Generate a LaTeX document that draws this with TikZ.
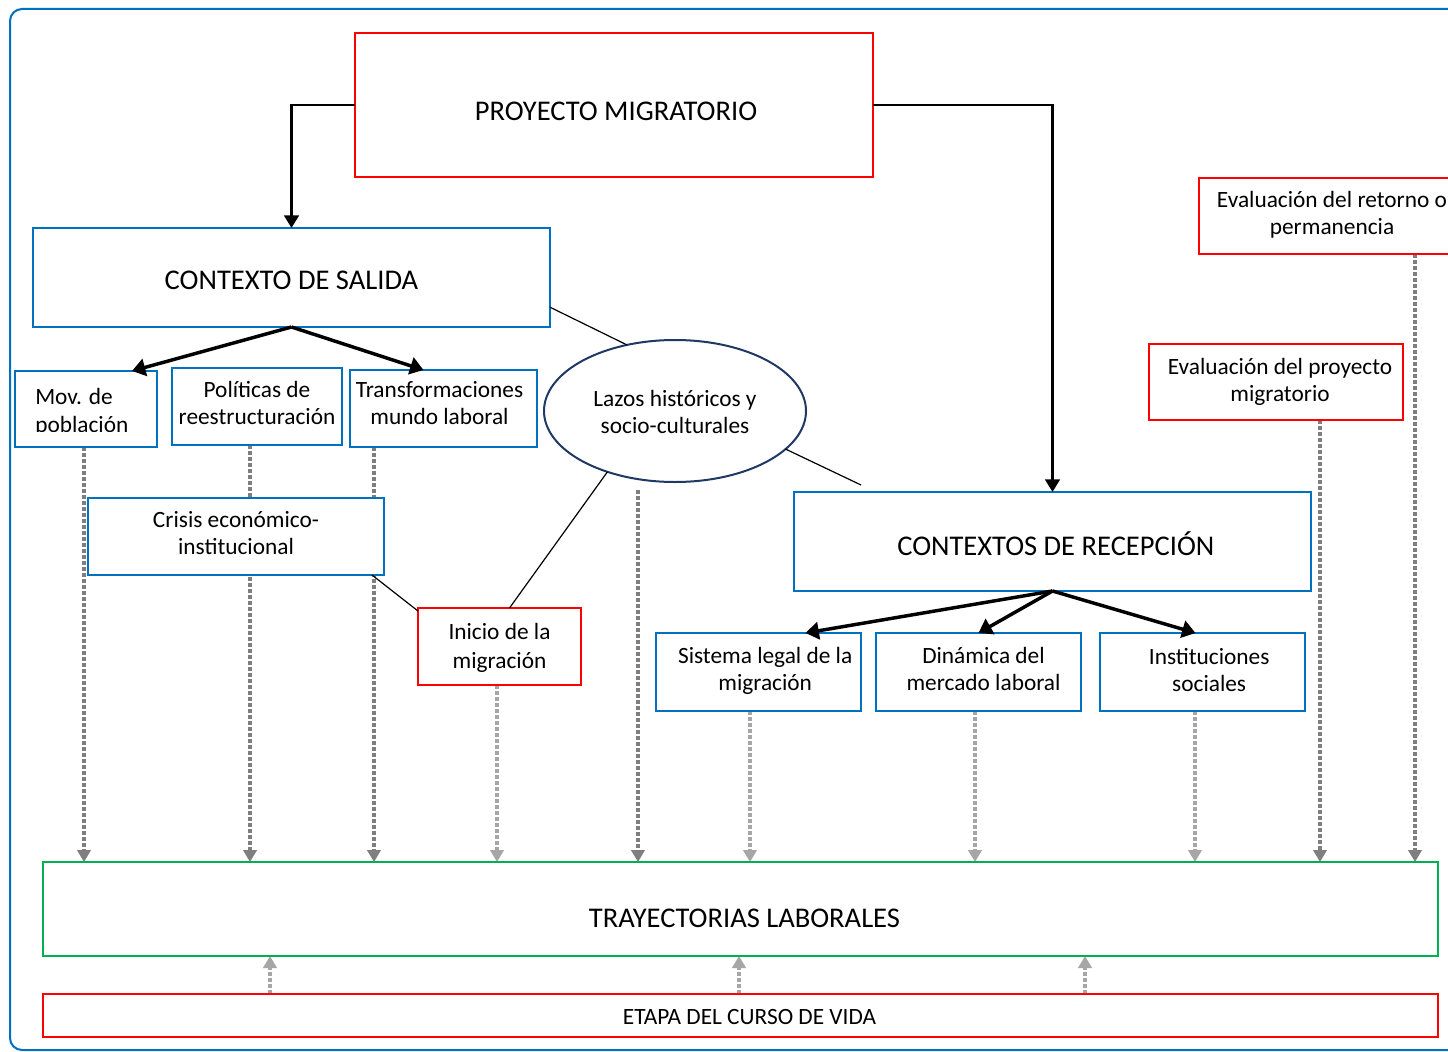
\documentclass[tikz,border=0pt]{standalone}
\usepackage{fontspec}
\setmainfont{Carlito}
\usetikzlibrary{arrows.meta,shapes.geometric,calc}
\definecolor{obl}{RGB}{0,112,192}
\definecolor{ored}{RGB}{255,0,0}
\definecolor{ogr}{RGB}{0,176,80}
\definecolor{onavy}{RGB}{31,56,100}
\definecolor{dkg}{RGB}{127,127,127}
\definecolor{ltg}{RGB}{166,166,166}
\newcommand\smf{\fontsize{17.5}{20}\selectfont}
\newcommand\lgf{\fontsize{21.4}{26}\selectfont}
% text shifted vertically by #1 without changing its reported size
\newcommand\mv[2]{\raisebox{#1}[\height][\depth]{#2}}
% two-line text block, raised by #1
\newcommand\tl[2][0.4pt]{\mv{#1}{\begin{tabular}{@{}c@{}}#2\end{tabular}}}
\pgfdeclarelayer{background}
\pgfsetlayers{background,main}
\begin{document}
\begin{tikzpicture}[x=0.75pt,y=-0.75pt,
  bx/.style 2 args={draw, fill=white, line width=1.5pt, inner sep=0pt, outer sep=0pt,
    minimum width=#1*0.75pt, minimum height=#2*0.75pt, align=center, font=\smf},
  bbox/.style={draw=obl},
  rbox/.style={draw=ored},
  blk/.style={line width=2pt, -{Triangle[width=11pt,length=9.5pt]}},
  blkk/.style={line width=2.6pt, -{Triangle[width=13pt,length=10pt]}},
  thn/.style={line width=0.9pt},
  dk/.style={draw=dkg, line width=3pt, dash pattern=on 3pt off 1.5pt, -{Triangle[width=10pt,length=9pt]}},
  lt/.style={draw=ltg, line width=3pt, dash pattern=on 3pt off 1.5pt, -{Triangle[width=10pt,length=9pt]}}
]
\useasboundingbox (0,0) rectangle (1448,1052);
\clip (0,0) rectangle (1448,1052);

% boxes
\node[bx={518}{144}, rbox, font=\lgf] (proy) at (614,105) {\hspace*{3pt}\mv{-4.5pt}{PROYECTO MIGRATORIO}};
\node[bx={517}{99}, bbox, font=\lgf] (salida) at (291.5,277.5) {\mv{-2pt}{CONTEXTO DE SALIDA}};
\node[bx={517}{99}, bbox, font=\lgf] (recep) at (1052.5,541.5) {\hspace*{5pt}\mv{-1.5pt}{CONTEXTOS DE RECEPCIÓN}};
\node[bx={266}{76}, rbox] (evret) at (1332,216) {\tl{Evaluación del retorno o\\permanencia}};
\node[bx={254}{76}, rbox] (evpro) at (1276,382) {\hspace*{6pt}\tl[-0.3pt]{Evaluación del proyecto\\migratorio}};
\node[bx={142}{76}, bbox] (mov) at (86,409) {};
\begin{scope}
  \clip (17,373) rectangle (155,431);
  \node[anchor=north west, align=left, inner sep=0pt, font=\smf] (movtext) at (35,388) {Mov. de\\[1pt]población};
\end{scope}
\node[bx={170}{77}, bbox] (pol) at (257,406.5) {\tl{Políticas de\\reestructuración}};
\node[bx={187}{77}, bbox] (trans) at (443.5,408.5) {\tl[2.3pt]{Transformaciones\\mundo laboral}\hspace*{6pt}};
\node[bx={296}{77}, bbox] (crisis) at (236,536.5) {\tl{Crisis económico-\\institucional}};
\node[ellipse, draw=onavy, line width=1.5pt, fill=white, inner sep=0pt, outer sep=0pt,
  minimum width=262*0.75pt, minimum height=142*0.75pt, font=\smf] (lazos) at (675,411) {\tl[-2.6pt]{Lazos históricos y\\socio-culturales}};
\node[bx={163}{77}, rbox] (inicio) at (499.5,646.5) {\tl[-1.5pt]{Inicio de la\\[1.5pt]migración}};
\node[bx={205}{78}, bbox] (sist) at (758.5,672) {\hspace*{10pt}\tl{Sistema legal de la\\migración}};
\node[bx={205}{78}, bbox] (dina) at (978.5,672) {\hspace*{7.5pt}\tl{Dinámica del\\mercado laboral}};
\node[bx={205}{78}, bbox] (inst) at (1202.5,672) {\hspace*{10pt}\tl[-0.7pt]{Instituciones\\sociales}};
\node[bx={1395}{94}, draw=ogr, font=\lgf] (tray) at (740.5,909) {\hspace*{6pt}\mv{-6.75pt}{TRAYECTORIAS LABORALES}};
\node[bx={1395}{43}, rbox] (etapa) at (740.5,1015.5) {\hspace*{13.5pt}\mv{-1.5pt}{ETAPA DEL CURSO DE VIDA}};

% x positions of the dotted connectors
\foreach \p in {84,250,374,497,638,750,975,1195,1320,1415,270,739,1085}
  \coordinate (x\p) at (\p,0);
\coordinate (c861) at (861,485);

\begin{pgfonlayer}{background}
  \fill[white] (0,0) rectangle (1448,1052);
  \draw[obl, line width=1.5pt, rounded corners=9pt] (10,9) rectangle (1480,1050);
  \draw[dk] (mov.south -| x84) -- (tray.north -| x84);
  \draw[dk] (pol.south -| x250) -- (tray.north -| x250);
  \draw[dk] (trans.south -| x374) -- (tray.north -| x374);
  \draw[lt] (inicio.south -| x497) -- (tray.north -| x497);
  \draw[dk] ($(lazos.south -| x638)+(0,8)$) -- (tray.north -| x638);
  \draw[lt] (sist.south -| x750) -- (tray.north -| x750);
  \draw[lt] (dina.south -| x975) -- (tray.north -| x975);
  \draw[lt] (inst.south -| x1195) -- (tray.north -| x1195);
  \draw[dk] (evpro.south -| x1320) -- (tray.north -| x1320);
  \draw[dk] (evret.south -| x1415) -- (tray.north -| x1415);
  \draw[lt] (etapa.north -| x270) -- (tray.south -| x270);
  \draw[lt] (etapa.north -| x739) -- (tray.south -| x739);
  \draw[lt] (etapa.north -| x1085) -- (tray.south -| x1085);
\end{pgfonlayer}

% black arrows
\draw[blk] (proy.west) -| (salida.north);
\draw[blk] (proy.east) -| (recep.north);
\draw[blkk] (salida.south) -- ($(mov.north)+(46,0)$);
\draw[blkk] (salida.south) -- ($(trans.north)+(-20,0)$);
\draw[blkk] (recep.south) -- ($(sist.north)+(47,0)$);
\draw[blkk] (recep.south) -- (dina.north);
\draw[blkk] (recep.south) -- ($(inst.north)+(-7,0)$);

% thin lines
\draw[thn] ($(salida.north east)!0.8!(salida.south east)$) -- (lazos.126);
\draw[thn] (lazos.-19) -- (c861);
\draw[thn] (lazos.222) -- ($(inicio.north)+(10,0)$);
\draw[thn] ($(crisis.south east)+(-12,0)$) -- ($(inicio.north west)+(0,3)$);
\end{tikzpicture}
\end{document}
